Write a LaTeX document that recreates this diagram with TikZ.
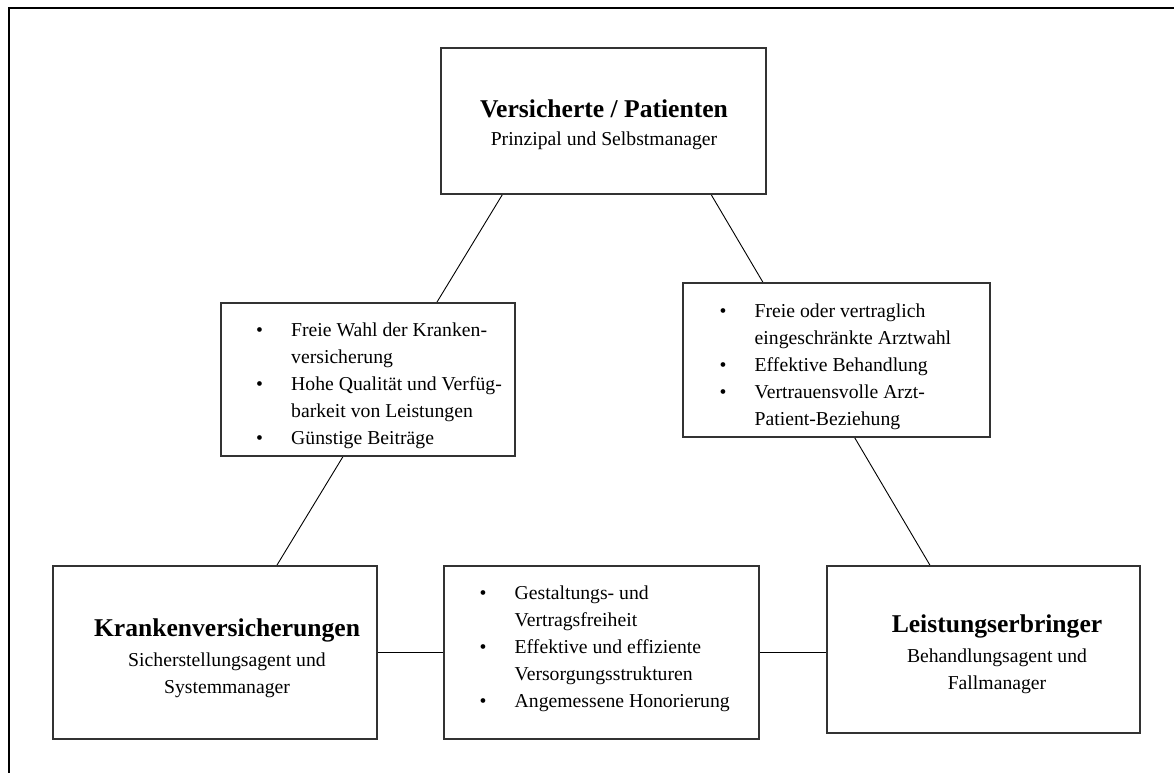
\documentclass[tikz,border=0pt]{standalone}
\usepackage{fontspec}
\setmainfont{Liberation Serif}
\usetikzlibrary{calc,backgrounds}
\newcommand\rollenfont{\fontsize{25.6}{30}\selectfont\bfseries}
\newcommand\grundfont{\fontsize{19.7}{27}\selectfont}

\begin{document}
\begin{tikzpicture}[x=1pt,y=-1pt,
    kasten/.style={draw=black!80,line width=1.2pt,fill=white,inner sep=0pt},
    rolle/.style={align=center,inner sep=0pt,font=\grundfont},
    liste/.style={anchor=west,inner sep=0pt,font=\grundfont}]
  \useasboundingbox (0,0) rectangle (1174,773);
  % frame
  \draw[line width=2pt] (1174,8) -- (9,8) -- (9,773);
  % the three actors
  \node[kasten,minimum width=325,minimum height=146] (patienten) at (603.5,121) {};
  \node[kasten,minimum width=324,minimum height=173] (kassen) at (215,652.5) {};
  \node[kasten,minimum width=313,minimum height=167] (erbringer) at (983.5,649.5) {};
  \node[rolle] (patienten-text) at (604,124.5)
    {{\rollenfont Versicherte / Patienten}\\[1pt] Prinzipal und Selbstmanager};
  \node[rolle] (kassen-text) at (227,658)
    {{\rollenfont Krankenversicherungen}\\[2.5pt] Sicherstellungsagent und\\ Systemmanager};
  \node[rolle] (erbringer-text) at (997,654)
    {{\rollenfont Leistungserbringer}\\[2.5pt] Behandlungsagent und\\ Fallmanager};
  % lists on the edges
  \node[kasten,minimum width=294,minimum height=153] (wahl) at (368,379.5) {};
  \node[kasten,minimum width=307,minimum height=154] (arztwahl) at (836.5,360) {};
  \node[kasten,minimum width=315,minimum height=173] (vertrag) at (601.5,652.5) {};
  \node[liste] (wahl-text) at (256,385) {\begin{tabular}{@{}p{35pt}@{}l@{}}
    \textbullet & Freie Wahl der Kranken-\\
    & versicherung\\
    \textbullet & Hohe Qualität und Verfüg-\\
    & barkeit von Leistungen\\
    \textbullet & Günstige Beiträge
  \end{tabular}};
  \node[liste] (arztwahl-text) at (719.5,366.5) {\begin{tabular}{@{}p{35pt}@{}l@{}}
    \textbullet & Freie oder vertraglich\\
    & eingeschränkte Arztwahl\\
    \textbullet & Effektive Behandlung\\
    \textbullet & Vertrauensvolle Arzt-\\
    & Patient-Beziehung
  \end{tabular}};
  \node[liste] (vertrag-text) at (479.5,648) {\begin{tabular}{@{}p{35pt}@{}l@{}}
    \textbullet & Gestaltungs- und\\
    & Vertragsfreiheit\\
    \textbullet & Effektive und effiziente\\
    & Versorgungsstrukturen\\
    \textbullet & Angemessene Honorierung
  \end{tabular}};
  % connections, behind the lists
  \begin{scope}[on background layer]
    \draw[line width=0.9pt] ($(patienten.south west)!0.19!(patienten.south east)$)
      -- ($(kassen.north west)!0.69!(kassen.north east)$);
    \draw[line width=0.9pt] ($(patienten.south west)!0.83!(patienten.south east)$)
      -- ($(erbringer.north west)!0.33!(erbringer.north east)$);
    \draw[line width=0.9pt] (kassen.east) -- (kassen.east -| erbringer.west);
  \end{scope}
\end{tikzpicture}
\end{document}
